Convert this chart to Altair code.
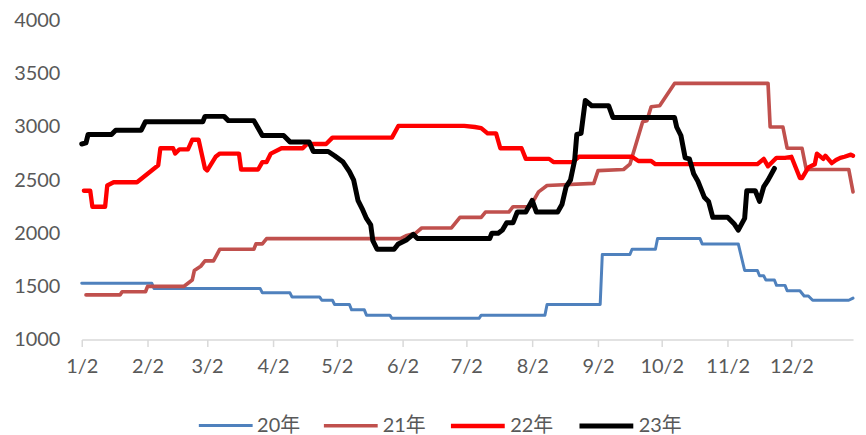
import altair as alt
import pandas as pd

YEAR = "2023"

# ---- series data (month-day, value) ----
d20 = ["01-02","02-04","02-05","03-27","03-28","04-10","04-11","04-24","04-25","04-30",
       "05-01","05-08","05-09","05-15","05-16","05-27","05-28","07-08","07-09","08-08",
       "08-09","09-03","09-04","09-17","09-18","09-29","09-30","10-20","10-21","11-07",
       "11-10","11-16","11-17","11-19","11-20","11-24","11-25","11-29","11-30","12-06",
       "12-08","12-10","12-12","12-29","12-31"]
v20 = [1530,1530,1480,1480,1440,1440,1400,1400,1370,1370,
       1330,1330,1280,1280,1230,1230,1200,1200,1230,1230,
       1330,1330,1800,1800,1850,1850,1950,1950,1900,1900,
       1650,1650,1600,1600,1560,1560,1510,1510,1460,1460,
       1410,1410,1370,1370,1390]

d21 = ["01-04","01-20","01-21","02-01","02-02","02-19","02-23","02-24","02-27","03-01",
       "03-05","03-08","03-24","03-25","03-28","03-30","06-01","06-04","06-08","06-11",
       "06-25","06-27","06-29","07-09","07-11","07-22","07-24","08-01","08-05","08-09",
       "08-31","09-02","09-14","09-17","09-23","09-25","09-27","10-01","10-08","11-21",
       "11-22","11-28","11-30","12-07","12-09","12-29","12-31"]
v21 = [1420,1420,1450,1450,1500,1500,1560,1650,1690,1740,
       1740,1850,1850,1900,1900,1950,1950,1980,2000,2050,
       2050,2100,2150,2150,2200,2200,2250,2250,2390,2450,
       2470,2590,2600,2650,3050,3060,3190,3200,3410,3410,
       3000,3000,2800,2800,2600,2600,2390]

d22 = ["01-03","01-06","01-07","01-13","01-14","01-17","01-28","02-07","02-08","02-14",
       "02-15","02-17","02-21","02-23","02-26","03-01","03-02","03-06","03-08","03-17",
       "03-18","03-26","03-28","03-30","04-01","04-06","04-16","04-18","04-27","04-30",
       "05-28","05-31","07-01","07-06","07-09","07-12","07-16","07-18","07-28","07-30",
       "08-10","08-12","08-21","08-24","09-18","09-21","09-27","09-29","11-16","11-19",
       "11-21","11-25","11-29","12-02","12-06","12-07","12-10","12-13","12-14","12-17",
       "12-18","12-21","12-23","12-25","12-27","12-30","12-31"]
v22 = [2400,2400,2250,2250,2450,2480,2480,2640,2800,2800,
       2750,2790,2790,2880,2880,2610,2590,2720,2750,2750,
       2600,2600,2670,2670,2750,2800,2800,2840,2840,2900,
       2900,3010,3010,3000,2990,2940,2940,2800,2800,2700,
       2700,2670,2670,2720,2720,2680,2680,2650,2650,2700,
       2630,2710,2710,2720,2520,2520,2620,2650,2750,2700,
       2730,2660,2690,2710,2720,2740,2730]

d23 = ["01-02","01-04","01-05","01-16","01-18","01-30","02-01","02-28","03-01","03-10",
       "03-12","03-24","03-26","03-28","04-07","04-10","04-19","04-21","04-28","05-01",
       "05-05","05-08","05-10","05-12","05-14","05-16","05-18","05-19","05-21","05-29",
       "05-31","06-04","06-07","06-09","07-13","07-14","07-17","07-19","07-21","07-24",
       "07-26","07-30","08-02","08-04","08-14","08-16","08-18","08-20","08-22","08-23",
       "08-25","08-27","08-30","09-07","09-09","10-08","10-09","10-11","10-13","10-15",
       "10-17","10-19","10-22","10-24","10-26","11-02","11-05","11-07","11-10","11-11",
       "11-15","11-17","11-19","11-21","11-24"]
v23 = [2840,2850,2930,2930,2970,2970,3050,3050,3100,3100,
       3060,3060,2990,2920,2920,2860,2860,2770,2770,2730,
       2670,2580,2500,2310,2230,2140,2080,1930,1850,1850,
       1900,1940,1990,1950,1950,2000,2000,2030,2100,2100,
       2200,2200,2310,2200,2200,2270,2440,2500,2690,2930,
       2940,3250,3200,3200,3090,3090,3000,2920,2710,2700,
       2560,2490,2340,2300,2150,2150,2090,2030,2140,2400,
       2400,2300,2440,2500,2610]

series_names = ["20年", "21年", "22年", "23年"]
series_colors = ["#4F81BD", "#C0504D", "#FF0000", "#000000"]
width_range = [3, 5]  # thinnest (20年) to thickest (23年)

x_ticks = ["01-02","02-02","03-02","04-02","05-02","06-02",
           "07-02","08-02","09-02","10-02","11-02","12-02"]
y_ticks = [1000, 1500, 2000, 2500, 3000, 3500, 4000]

rows = []
for name, ds, vs in zip(series_names, [d20, d21, d22, d23], [v20, v21, v22, v23]):
    for i, (d, v) in enumerate(zip(ds, vs)):
        rows.append({"series": name, "date": f"{YEAR}-{d}", "value": v, "idx": i})
df = pd.DataFrame(rows)

def dt(md):
    m, d = md.split("-")
    return alt.DateTime(year=int(YEAR), month=int(m), date=int(d), utc=True)

FONT = "Lato, 'Noto Sans CJK SC', sans-serif"
GREY = "#595959"

legend_props = dict(title=None, orient="none", direction="horizontal",
                    legendX=116, legendY=377,
                    symbolType="stroke", symbolSize=2916,
                    labelFontSize=20, labelFont=FONT, labelColor=GREY,
                    labelOffset=3, columnPadding=15)

chart = alt.Chart(df).mark_line(strokeJoin="round", strokeCap="round").encode(
    x=alt.X("date:T",
            scale=alt.Scale(type="utc", domain=[dt("01-02"), dt("12-31")]),
            axis=alt.Axis(values=[dt(t) for t in x_ticks], format="%-m/%-d",
                          title=None, grid=False, domainColor="#D9D9D9", domainWidth=1.5,
                          tickColor="#D9D9D9", tickWidth=1.5, tickSize=7,
                          labelPadding=10, labelFontSize=20, labelFont=FONT,
                          labelColor=GREY, labelOverlap=False, labelFlush=False)),
    y=alt.Y("value:Q",
            scale=alt.Scale(domain=[1000, 4000], nice=False, zero=False),
            axis=alt.Axis(values=y_ticks, format="d", title=None, grid=False, domain=False,
                          ticks=False, labelPadding=22, labelFontSize=20,
                          labelFont=FONT, labelColor=GREY)),
    color=alt.Color("series:N",
                    scale=alt.Scale(domain=series_names, range=series_colors),
                    legend=alt.Legend(**legend_props)),
    strokeWidth=alt.StrokeWidth("series:N",
                    scale=alt.Scale(domain=series_names, range=width_range),
                    legend=alt.Legend(**legend_props)),
    order=alt.Order("idx:Q"),
).properties(
    width=774, height=320,
    padding={"left": 5, "top": 2, "right": 2, "bottom": 0},
).configure_view(stroke=None)

chart.save("out.html", embed_options={"renderer": "svg", "actions": False})
